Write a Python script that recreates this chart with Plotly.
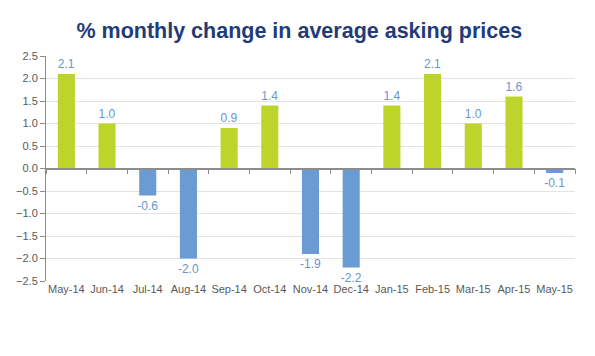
import plotly.graph_objects as go

months = ["May-14", "Jun-14", "Jul-14", "Aug-14", "Sep-14", "Oct-14", "Nov-14",
          "Dec-14", "Jan-15", "Feb-15", "Mar-15", "Apr-15", "May-15"]
values = [2.1, 1.0, -0.6, -2.0, 0.9, 1.4, -1.9, -2.2, 1.4, 2.1, 1.0, 1.6, -0.1]

GREEN = "#BDD52B"
BLUE = "#6A9BD3"
LABEL = "#6A96CC"
colors = [GREEN if v >= 0 else BLUE for v in values]

fig = go.Figure()
fig.add_trace(go.Bar(
    x=months, y=values, marker=dict(color=colors, line=dict(width=0)),
    text=[f"{v:.1f}" for v in values], textposition="outside",
    textfont=dict(color=LABEL, size=12, family="Liberation Sans"),
    outsidetextfont=dict(color=LABEL, size=12, family="Liberation Sans"),
    constraintext="none",
    cliponaxis=False, width=0.42, hoverinfo="x+y",
))
# invisible trace for the zero-line category axis
fig.add_trace(go.Scatter(x=months, y=[0] * len(months), xaxis="x2", yaxis="y",
                         mode="markers", marker=dict(opacity=0), showlegend=False,
                         hoverinfo="skip"))

fig.update_layout(
    width=595, height=356,
    margin=dict(l=46, r=20, t=56, b=75),
    plot_bgcolor="white", paper_bgcolor="white",
    showlegend=False,
    title=dict(text="<b>% monthly change in average asking prices</b>",
               x=0.503, xanchor="center", y=0.915, yanchor="middle",
               font=dict(size=21.5, color="#1F3C78", family="Liberation Sans")),
    font=dict(family="Liberation Sans", size=11, color="#595959"),
    xaxis=dict(type="category", categoryarray=months, showline=False, ticks="",
               showgrid=False, tickfont=dict(size=11, color="#595959"),
               range=[-0.5, 12.5]),
    xaxis2=dict(type="category", categoryarray=months, overlaying="x",
                anchor="free", position=0.5, side="bottom",
                showline=True, linecolor="#8C8C8C", linewidth=1.5,
                ticks="outside", tickson="boundaries", ticklen=5,
                tickcolor="#8C8C8C", showticklabels=False, showgrid=False,
                range=[-0.5, 12.5]),
    yaxis=dict(range=[-2.5, 2.5], dtick=0.5, tickformat=".1f",
               showline=True, linecolor="#8C8C8C", ticks="outside", ticklen=5,
               tickcolor="#8C8C8C", gridcolor="#E3E3E3", zeroline=False,
               tickfont=dict(size=11, color="#595959")),
)

fig.write_html("out.html", config={"displayModeBar": False},
               post_script="document.body.style.margin='0';")
